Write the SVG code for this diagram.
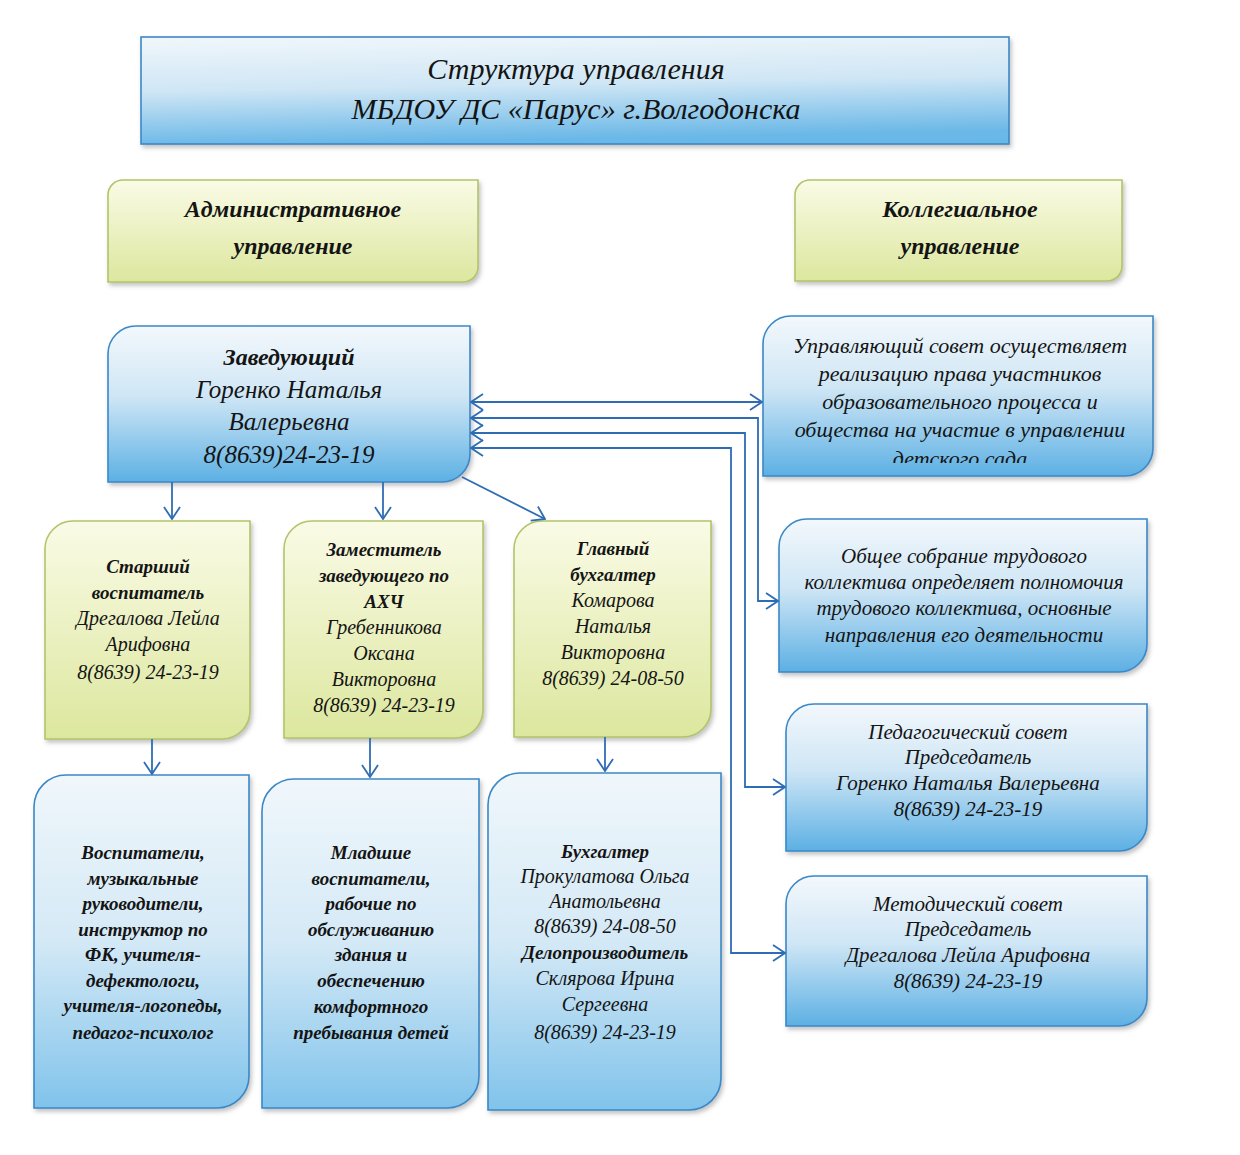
<svg xmlns="http://www.w3.org/2000/svg" width="1240" height="1155" viewBox="0 0 1240 1155">
<defs>
<style>
text{font-family:"Liberation Serif","DejaVu Serif",serif;font-style:italic;fill:#141414;text-anchor:middle}
.b{font-weight:bold}
.blue{stroke:#3a88c8;stroke-width:1.6}
.green{stroke:#b2c46a;stroke-width:1.6}
.conn{fill:none;stroke:#2e6db4;stroke-width:1.8}
.t30{font-size:30px}.t24{font-size:24px}.t25{font-size:25px}.t19{font-size:19px}.t20{font-size:20px}.t22{font-size:22px}.t21{font-size:21px}
</style>
<linearGradient id="gBlue" x1="0" y1="0" x2="0" y2="1">
<stop offset="0" stop-color="#f3f8fc"/><stop offset="0.45" stop-color="#cfe6f5"/><stop offset="1" stop-color="#5cb0e4"/>
</linearGradient>
<linearGradient id="gBlue2" x1="0" y1="0" x2="0" y2="1">
<stop offset="0" stop-color="#f0f7fb"/><stop offset="0.5" stop-color="#d4e9f6"/><stop offset="1" stop-color="#80c3eb"/>
</linearGradient>
<linearGradient id="gTitle" x1="0" y1="0" x2="0.15" y2="1">
<stop offset="0" stop-color="#f1f7fb"/><stop offset="0.5" stop-color="#cfe6f5"/><stop offset="1" stop-color="#6bb8e7"/>
</linearGradient>
<linearGradient id="gGreen" x1="0" y1="0" x2="0" y2="1">
<stop offset="0" stop-color="#fafbe6"/><stop offset="1" stop-color="#dce79e"/>
</linearGradient>
<filter id="sh" x="-10%" y="-10%" width="125%" height="125%">
<feDropShadow dx="2" dy="3" stdDeviation="2" flood-color="#555" flood-opacity="0.35"/>
</filter>
<marker id="ah" viewBox="0 0 14 18" refX="13" refY="9" markerWidth="14" markerHeight="18" markerUnits="userSpaceOnUse" orient="auto-start-reverse">
<path d="M1,1 L13,9 L1,17" fill="none" stroke="#2e6db4" stroke-width="1.8"/>
</marker>
<clipPath id="clipUpr"><rect x="763" y="316" width="390" height="147"/></clipPath>
</defs>
<rect width="1240" height="1155" fill="#ffffff"/>

<g id="title">
<rect x="141" y="37" width="868" height="107" fill="url(#gTitle)" class="blue" filter="url(#sh)"/>
<text class="t30" x="576" y="79">Структура управления</text>
<text class="t30" x="576" y="119">МБДОУ ДС «Парус» г.Волгодонска</text>
</g>

<g id="admin">
<path d="M123,180 H478 V267 A15,15 0 0 1 463,282 H108 V195 A15,15 0 0 1 123,180 Z" fill="url(#gGreen)" class="green" filter="url(#sh)"/>
<text class="t24 b" x="293" y="217">Административное</text>
<text class="t24 b" x="293" y="254">управление</text>
</g>

<g id="collegial">
<path d="M810,180 H1122 V266 A15,15 0 0 1 1107,281 H795 V195 A15,15 0 0 1 810,180 Z" fill="url(#gGreen)" class="green" filter="url(#sh)"/>
<text class="t24 b" x="960" y="217">Коллегиальное</text>
<text class="t24 b" x="960" y="254">управление</text>
</g>

<g id="head">
<path d="M136,326 H470 V454 A28,28 0 0 1 442,482 H108 V354 A28,28 0 0 1 136,326 Z" fill="url(#gBlue)" class="blue" filter="url(#sh)"/>
<text class="t24 b" x="289" y="365">Заведующий</text>
<text class="t25" x="289" y="398">Горенко Наталья</text>
<text class="t25" x="289" y="430">Валерьевна</text>
<text class="t25" x="289" y="463">8(8639)24-23-19</text>
</g>

<g id="senior">
<path d="M73,521 H250 V711 A28,28 0 0 1 222,739 H45 V549 A28,28 0 0 1 73,521 Z" fill="url(#gGreen)" class="green" filter="url(#sh)"/>
<text class="t19 b" x="148" y="573">Старший</text>
<text class="t19 b" x="148" y="599">воспитатель</text>
<text class="t20" x="148" y="625">Дрегалова Лейла</text>
<text class="t20" x="148" y="651">Арифовна</text>
<text class="t20" x="148" y="679">8(8639) 24-23-19</text>
</g>

<g id="deputy">
<path d="M312,521 H483 V710 A28,28 0 0 1 455,738 H284 V549 A28,28 0 0 1 312,521 Z" fill="url(#gGreen)" class="green" filter="url(#sh)"/>
<text class="t19 b" x="384" y="556">Заместитель</text>
<text class="t19 b" x="384" y="582">заведующего по</text>
<text class="t19 b" x="384" y="608">АХЧ</text>
<text class="t20" x="384" y="634">Гребенникова</text>
<text class="t20" x="384" y="660">Оксана</text>
<text class="t20" x="384" y="686">Викторовна</text>
<text class="t20" x="384" y="712">8(8639) 24-23-19</text>
</g>

<g id="chief-accountant">
<path d="M542,521 H711 V709 A28,28 0 0 1 683,737 H514 V549 A28,28 0 0 1 542,521 Z" fill="url(#gGreen)" class="green" filter="url(#sh)"/>
<text class="t19 b" x="613" y="555">Главный</text>
<text class="t19 b" x="613" y="581">бухгалтер</text>
<text class="t20" x="613" y="607">Комарова</text>
<text class="t20" x="613" y="633">Наталья</text>
<text class="t20" x="613" y="659">Викторовна</text>
<text class="t20" x="613" y="685">8(8639) 24-08-50</text>
</g>

<g id="teachers">
<path d="M66,775 H249 V1076 A32,32 0 0 1 217,1108 H34 V807 A32,32 0 0 1 66,775 Z" fill="url(#gBlue2)" class="blue" filter="url(#sh)"/>
<text class="t19 b" x="143" y="859">Воспитатели,</text>
<text class="t19 b" x="143" y="885">музыкальные</text>
<text class="t19 b" x="143" y="910">руководители,</text>
<text class="t19 b" x="143" y="936">инструктор по</text>
<text class="t19 b" x="143" y="961">ФК, учителя-</text>
<text class="t19 b" x="143" y="987">дефектологи,</text>
<text class="t19 b" x="143" y="1012">учителя-логопеды,</text>
<text class="t19 b" x="143" y="1039">педагог-психолог</text>
</g>

<g id="junior">
<path d="M294,779 H479 V1076 A32,32 0 0 1 447,1108 H262 V811 A32,32 0 0 1 294,779 Z" fill="url(#gBlue2)" class="blue" filter="url(#sh)"/>
<text class="t19 b" x="371" y="859">Младшие</text>
<text class="t19 b" x="371" y="885">воспитатели,</text>
<text class="t19 b" x="371" y="910">рабочие по</text>
<text class="t19 b" x="371" y="936">обслуживанию</text>
<text class="t19 b" x="371" y="961">здания и</text>
<text class="t19 b" x="371" y="987">обеспечению</text>
<text class="t19 b" x="371" y="1013">комфортного</text>
<text class="t19 b" x="371" y="1039">пребывания детей</text>
</g>

<g id="accountant">
<path d="M520,773 H721 V1078 A32,32 0 0 1 689,1110 H488 V805 A32,32 0 0 1 520,773 Z" fill="url(#gBlue2)" class="blue" filter="url(#sh)"/>
<text class="t19 b" x="605" y="858">Бухгалтер</text>
<text class="t20" x="605" y="883">Прокулатова Ольга</text>
<text class="t20" x="605" y="908">Анатольевна</text>
<text class="t20" x="605" y="933">8(8639) 24-08-50</text>
<text class="t19 b" x="605" y="959">Делопроизводитель</text>
<text class="t20" x="605" y="985">Склярова Ирина</text>
<text class="t20" x="605" y="1011">Сергеевна</text>
<text class="t20" x="605" y="1039">8(8639) 24-23-19</text>
</g>

<g id="council">
<path d="M791,316 H1153 V448 A28,28 0 0 1 1125,476 H763 V344 A28,28 0 0 1 791,316 Z" fill="url(#gBlue)" class="blue" filter="url(#sh)"/>
<g clip-path="url(#clipUpr)">
<text class="t22" x="960" y="353">Управляющий совет осуществляет</text>
<text class="t22" x="960" y="381">реализацию права участников</text>
<text class="t22" x="960" y="409">образовательного процесса и</text>
<text class="t22" x="960" y="437">общества на участие в управлении</text>
<text class="t22" x="960" y="466">детского сада</text>
</g>
</g>

<g id="general-meeting">
<path d="M807,519 H1147 V644 A28,28 0 0 1 1119,672 H779 V547 A28,28 0 0 1 807,519 Z" fill="url(#gBlue)" class="blue" filter="url(#sh)"/>
<text class="t21" x="964" y="563">Общее собрание трудового</text>
<text class="t21" x="964" y="589">коллектива определяет полномочия</text>
<text class="t21" x="964" y="615">трудового коллектива, основные</text>
<text class="t21" x="964" y="642">направления его деятельности</text>
</g>

<g id="ped-council">
<path d="M814,704 H1147 V823 A28,28 0 0 1 1119,851 H786 V732 A28,28 0 0 1 814,704 Z" fill="url(#gBlue)" class="blue" filter="url(#sh)"/>
<text class="t21" x="968" y="739">Педагогический совет</text>
<text class="t21" x="968" y="764">Председатель</text>
<text class="t21" x="968" y="790">Горенко Наталья Валерьевна</text>
<text class="t21" x="968" y="816">8(8639) 24-23-19</text>
</g>

<g id="method-council">
<path d="M814,876 H1147 V998 A28,28 0 0 1 1119,1026 H786 V904 A28,28 0 0 1 814,876 Z" fill="url(#gBlue)" class="blue" filter="url(#sh)"/>
<text class="t21" x="968" y="911">Методический совет</text>
<text class="t21" x="968" y="936">Председатель</text>
<text class="t21" x="968" y="962">Дрегалова Лейла Арифовна</text>
<text class="t21" x="968" y="988">8(8639) 24-23-19</text>
</g>

<g id="connectors">
<path class="conn" d="M172,482 V519" marker-end="url(#ah)"/>
<path class="conn" d="M383,482 V519" marker-end="url(#ah)"/>
<path class="conn" d="M462,477 L545,519" marker-end="url(#ah)"/>
<path class="conn" d="M152,739 V774" marker-end="url(#ah)"/>
<path class="conn" d="M370,738 V777" marker-end="url(#ah)"/>
<path class="conn" d="M605,737 V771" marker-end="url(#ah)"/>
<path class="conn" d="M471,402 H762" marker-start="url(#ah)" marker-end="url(#ah)"/>
<path class="conn" d="M471,418 H758 V601 H778" marker-start="url(#ah)" marker-end="url(#ah)"/>
<path class="conn" d="M471,433 H745 V787 H785" marker-start="url(#ah)" marker-end="url(#ah)"/>
<path class="conn" d="M471,448 H731 V953 H785" marker-start="url(#ah)" marker-end="url(#ah)"/>
</g>
</svg>
